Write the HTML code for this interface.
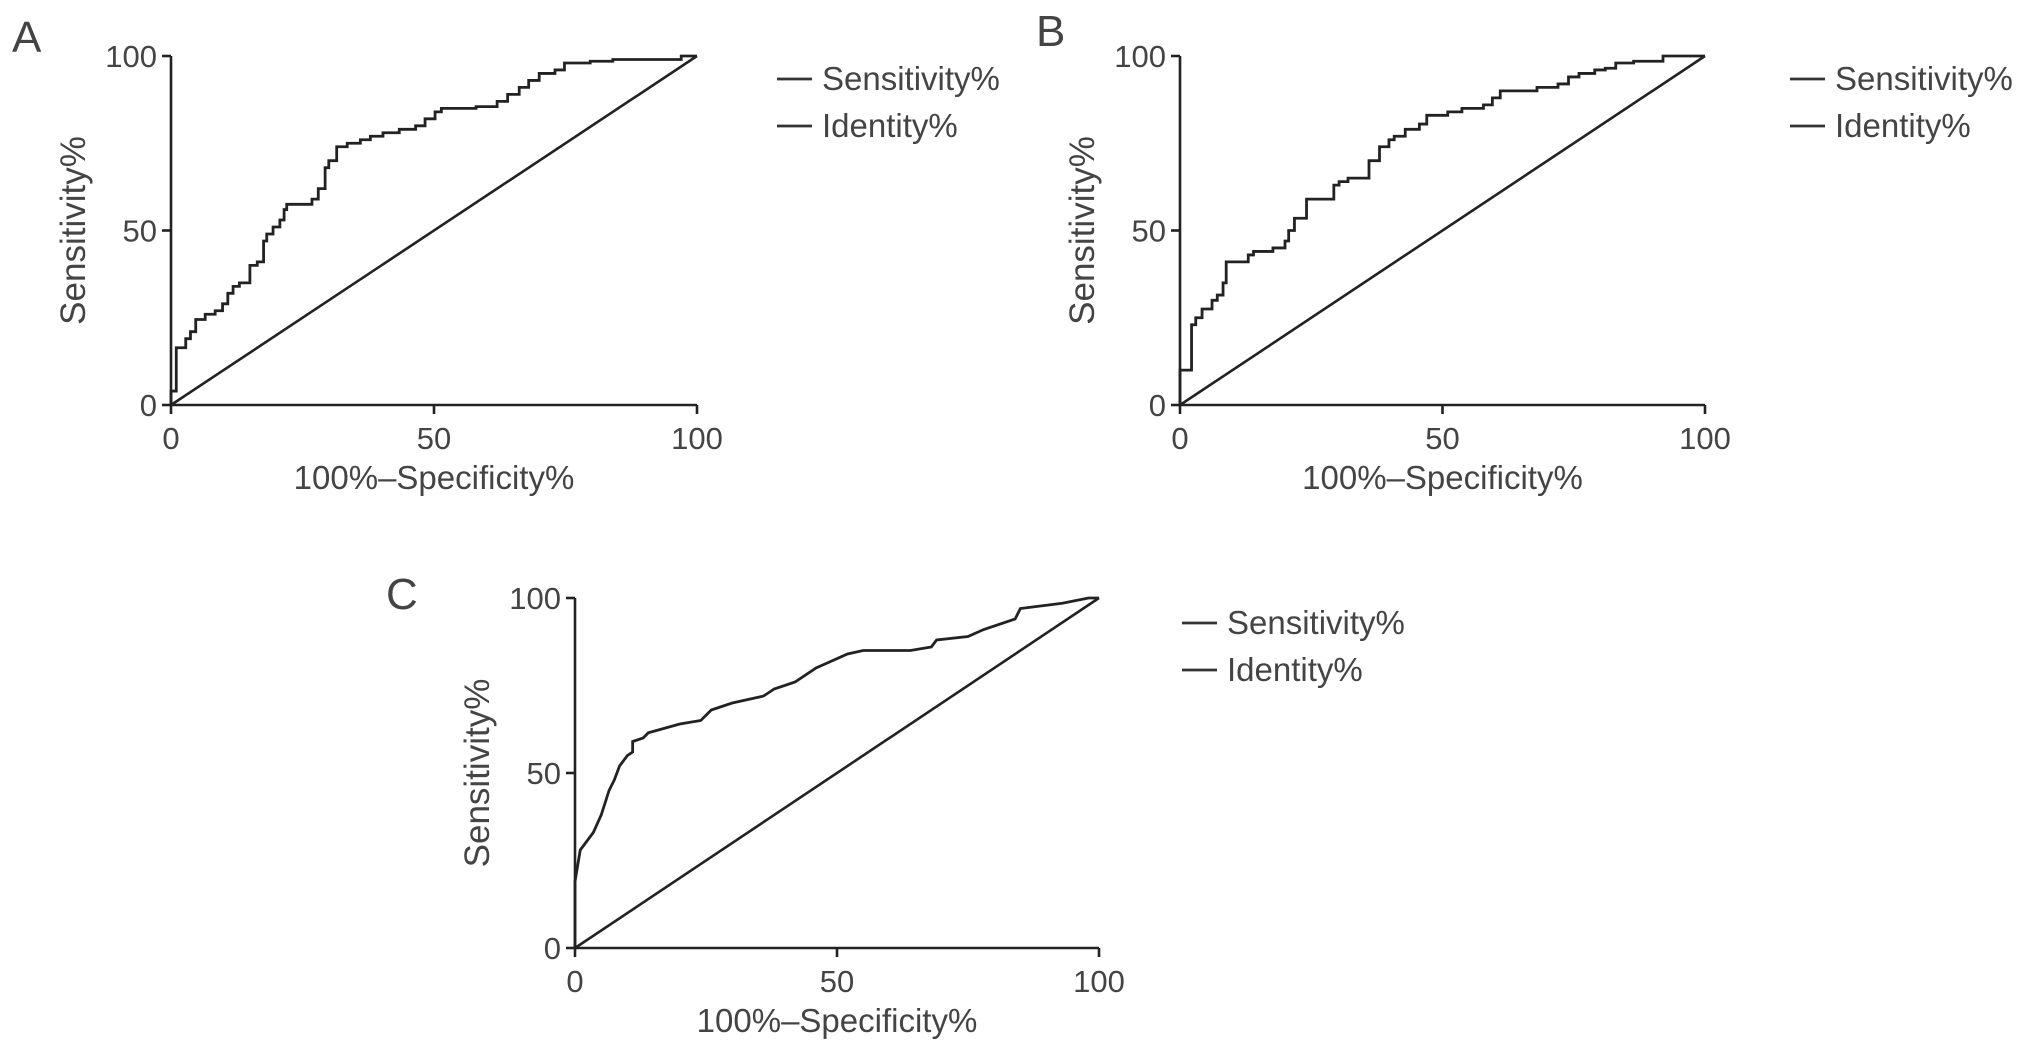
<!DOCTYPE html>
<html><head><meta charset="utf-8"><style>
html,body{margin:0;padding:0;background:#fff;}
svg{display:block;font-family:"Liberation Sans",sans-serif;}
text{fill:#444;}
</style></head><body>
<svg id="fig" width="2032" height="1051" viewBox="0 0 2032 1051"></svg>
<script>
// Panel A data (step ROC)
const aFpr=[0,0,1,2.8,3.7,4.7,6.5,8.4,9.8,10.8,11.8,13,15,16.4,17.6,18.2,19.4,20.7,21.5,22,26.8,28,29.3,30,31.5,33.5,36,37.9,40.3,43.4,46.5,48.3,50.2,51.4,58,62,64,66.2,68,70,73,74.8,79.7,84,97,100];
const aSens=[0,4,16.4,19,21,24.5,26,27,29,32,34,35,40,41,47,49,51,53,56,57.5,59,62,68,70,74,75,76,77,78,79,80,82,84,85,85.5,87,89,91,93,95,96,98,98.5,99,100,100];
// Panel B data (step ROC)
const bFpr=[0,0,2.2,3,4.2,6.1,7.1,8.2,8.8,13,14,17.7,20,20.7,21.8,24.1,29.3,30.3,32,36,38,39.8,40.8,42.9,45.6,47,51,53.7,57.8,59.5,61,68,72,74,76,79,81,83,86.4,92,100];
const bSens=[0,10,23,25,27.5,30,31.5,35,41,43,44,45,47,50,53.5,59,63,64,65,70,74,76,77,79,80.5,83,84,85,86,88,90,91,92,94,95,96,96.5,98,98.5,100,100];
// Panel C data (fine-step ROC drawn as polyline)
const cFpr=[0,0,1,3.5,5,6.5,7.5,8.5,10,11,11,13,14,20,24,26,30,36,38,42,46,52,55,64,68,69,75,78,84,85,93,98,100];
const cSens=[0,19,28,33,38,45,48,52,55,56,59,60,61.5,64,65,68,70,72,74,76,80,84,85,85,86,88,89,91,94,97,98.5,100,100];
const xTicks=[0,50,100];
const yTicks=[0,50,100];
const legendLabels=["Sensitivity%","Identity%"];

const NS="http://www.w3.org/2000/svg";
const svg=document.getElementById('fig');
function mk(tag,attrs,parent){const e=document.createElementNS(NS,tag);for(const k in attrs)e.setAttribute(k,attrs[k]);(parent||svg).appendChild(e);return e;}

function panel(id,letter,lx,ly,x0,x1,y0,y1,fpr,sens,step,leg){
  const g=mk('g',{});
  
  
  const sx=v=>x0+(x1-x0)*v/100, sy=v=>y0-(y0-y1)*v/100;
  const L=mk('text',{x:lx,y:ly,'font-size':44},g);L.textContent=letter;
  
  
  const ax=mk('path',{d:`M${x0},${y1}V${y0}H${x1}`,stroke:'#222','stroke-width':2.6,fill:'none'},g);
  
  
  yTicks.forEach(t=>{
    mk('line',{x1:x0-9,x2:x0,y1:sy(t),y2:sy(t),stroke:'#222','stroke-width':2.6},g);
    const tx=mk('text',{x:x0-14,y:sy(t)+11,'font-size':31,'text-anchor':'end'},g);tx.textContent=t;
    
    
  });
  xTicks.forEach(t=>{
    mk('line',{x1:sx(t),x2:sx(t),y1:y0,y2:y0+9,stroke:'#222','stroke-width':2.6},g);
    const tx=mk('text',{x:sx(t),y:y0+44,'font-size':31,'text-anchor':'middle'},g);tx.textContent=t;
    
    
  });
  const xt=mk('text',{x:(x0+x1)/2,y:y0+84,'font-size':33,'text-anchor':'middle'},g);xt.textContent='100%\u2013Specificity%';
  
  
  const cy=(y0+y1)/2, cx=x0-86;
  const yt=mk('text',{x:cx,y:cy,'font-size':35,'text-anchor':'middle',transform:`rotate(-90 ${cx} ${cy})`},g);yt.textContent='Sensitivity%';
  
  
  const id2=mk('line',{x1:sx(0),y1:sy(0),x2:sx(100),y2:sy(100),stroke:'#222','stroke-width':2.6},g);
  
  
  let d='';
  for(let i=0;i<fpr.length;i++){
    if(i===0)d+=`M${sx(fpr[0])},${sy(sens[0])}`;
    else if(step)d+=`H${sx(fpr[i])}V${sy(sens[i])}`;
    else d+=`L${sx(fpr[i])},${sy(sens[i])}`;
  }
  const r=mk('path',{d:d,stroke:'#222','stroke-width':2.8,fill:'none','stroke-linejoin':'miter'},g);
  
  
  legendLabels.forEach((lab,i)=>{
    const yy=leg[1]+i*47;
    const ll=mk('line',{x1:leg[0],x2:leg[0]+35,y1:yy,y2:yy,stroke:'#333','stroke-width':2.8},g);
    
    
    const lt=mk('text',{x:leg[0]+45,y:yy+11,'font-size':33},g);lt.textContent=lab;
    
    
  });
}
panel('a','A',12,52,171,697,405,56,aFpr,aSens,true,[777,79]);
panel('b','B',1036,46,1180,1705,405,56,bFpr,bSens,true,[1790,79]);
panel('c','C',386,609,575,1099,948,598,cFpr,cSens,false,[1182,623]);
</script>
</body></html>
